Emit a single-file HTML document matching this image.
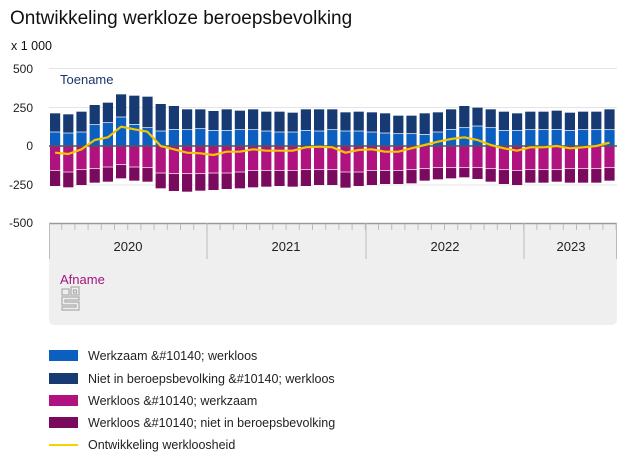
<!DOCTYPE html>
<html><head><meta charset="utf-8"><style>
body{margin:0;background:#fff;width:627px;height:470px;overflow:hidden;font-family:"Liberation Sans",Arial,sans-serif;}
svg{display:block}
</style></head><body>
<svg id="s" width="627" height="470" xmlns="http://www.w3.org/2000/svg" font-family="Liberation Sans, Arial, sans-serif">
<text x="10" y="24" font-size="19" fill="#111">Ontwikkeling werkloze beroepsbevolking</text>
<text x="11" y="50" font-size="12.5" fill="#111">x 1 000</text>
<g font-size="12" fill="#222" text-anchor="end">
<text x="33" y="73">500</text><text x="33" y="112">250</text><text x="33" y="150">0</text>
<text x="33" y="189">-250</text><text x="33" y="227">-500</text></g>
<line x1="49" x2="617" y1="68.5" y2="68.5" stroke="#e4e4e4"/>
<line x1="49" x2="617" y1="107.5" y2="107.5" stroke="#e4e4e4"/>
<line x1="49" x2="617" y1="185" y2="185" stroke="#e4e4e4"/>
<text x="60" y="84" font-size="13" fill="#1a3668">Toename</text>
<path d="M49 223 H617 V319 Q617 325 611 325 H55 Q49 325 49 319 Z" fill="#efefef"/>
<line x1="49" x2="617" y1="223.5" y2="223.5" stroke="#999" stroke-width="1.5"/>
<g id="bars"></g>
<g id="ticks" stroke="#bbb"></g>
<g stroke="#bbb"><line x1="49.5" x2="49.5" y1="223" y2="259"/><line x1="207" x2="207" y1="223" y2="259"/><line x1="366" x2="366" y1="223" y2="259"/><line x1="524" x2="524" y1="223" y2="259"/><line x1="616.5" x2="616.5" y1="223" y2="259"/></g>
<g font-size="13" fill="#222" text-anchor="middle">
<text x="128" y="251">2020</text><text x="286" y="251">2021</text><text x="445" y="251">2022</text><text x="571" y="251">2023</text></g>
<text x="60" y="284" font-size="13" fill="#a3157f">Afname</text>
<g fill="none" stroke="#aaa" stroke-width="1.2">
<rect x="62" y="289" width="7" height="6"/><rect x="71" y="287" width="8" height="8"/><rect x="73.5" y="290" width="3" height="3"/>
<path d="M62 297 H79 V300 H65 V302 H79 V310 H62 V307 H76 V305 H62 Z"/></g>
<line x1="49" x2="617" y1="146" y2="146" stroke="#555" stroke-width="1.5"/>
<polyline id="ln" fill="none" stroke="#f2c500" stroke-width="2.2" stroke-linejoin="round"/>
<g font-size="12.5" fill="#222">
<rect x="49" y="350" width="29" height="11" fill="#0b5fc0"/><text x="88" y="360">Werkzaam &amp;#10140; werkloos</text>
<rect x="49" y="373" width="29" height="11" fill="#173a72"/><text x="88" y="383">Niet in beroepsbevolking &amp;#10140; werkloos</text>
<rect x="49" y="395" width="29" height="11" fill="#b0127f"/><text x="88" y="405">Werkloos &amp;#10140; werkzaam</text>
<rect x="49" y="417" width="29" height="11" fill="#7a0a5d"/><text x="88" y="427">Werkloos &amp;#10140; niet in beroepsbevolking</text>
<line x1="49" x2="78" y1="445" y2="445" stroke="#f2d400" stroke-width="2"/><text x="88" y="449">Ontwikkeling werkloosheid</text>
</g>
</svg>
<script>
var d=[[160,215,330,378],[163,218,335,382],[155,215,328,375],[135,193,325,368],[128,187,320,365],[103,170,313,355],[107,192,320,362],[110,202,322,365],[132,212,338,385],[138,207,340,393],[148,208,340,395],[148,205,340,392],[153,210,338,390],[148,210,338,387],[152,208,335,385],[148,208,330,382],[155,212,330,380],[155,215,330,378],[158,215,330,380],[148,210,328,378],
[148,212,328,375],[148,208,328,375],[157,212,335,383],[155,212,335,378],[157,215,330,375],[160,218,330,372],[167,220,330,372],[167,220,328,370],[160,222,325,362],[157,215,322,358],[148,207,322,355],[138,202,322,352],[143,197,322,357],[148,202,325,365],[155,210,328,372],[160,210,330,375],[155,208,328,368],[155,208,328,368],[152,207,328,365],[158,210,325,368],[155,208,325,368],[155,208,325,368],[148,208,322,362]];
var L=[278,282,268,240,232,200,208,215,258,268,278,280,285,275,275,268,272,272,272,262,260,262,278,270,268,275,275,265,255,245,237,232,240,255,265,272,262,262,258,265,262,258,248];
var p=13.2,x0=50,h='',t='',pts=[];
function Y(z){return 60+z/3;}
d.forEach(function(b,i){var x=x0+i*p,w=10.2;var a=Y(b[0]),c=Y(b[1]),m=Y(b[2]),e=Y(b[3]);
h+='<rect x="'+x+'" y="'+a+'" width="'+w+'" height="'+(c-a)+'" fill="#173a72"/>';
h+='<rect x="'+x+'" y="'+(c+0.7)+'" width="'+w+'" height="'+(146-c-0.7)+'" fill="#0b5fc0"/>';
h+='<rect x="'+x+'" y="146" width="'+w+'" height="'+(m-146)+'" fill="#b0127f"/>';
h+='<rect x="'+x+'" y="'+(m+0.7)+'" width="'+w+'" height="'+(e-m-0.7)+'" fill="#7a0a5d"/>';
pts.push((x+w/2).toFixed(1)+','+Y(L[i]).toFixed(1));
t+='<line x1="'+(x+w+1.5)+'" x2="'+(x+w+1.5)+'" y1="224" y2="230"/>';});
document.getElementById('bars').innerHTML=h;document.getElementById('ticks').innerHTML=t;
document.getElementById('ln').setAttribute('points',pts.join(' '));
</script>
</body></html>
